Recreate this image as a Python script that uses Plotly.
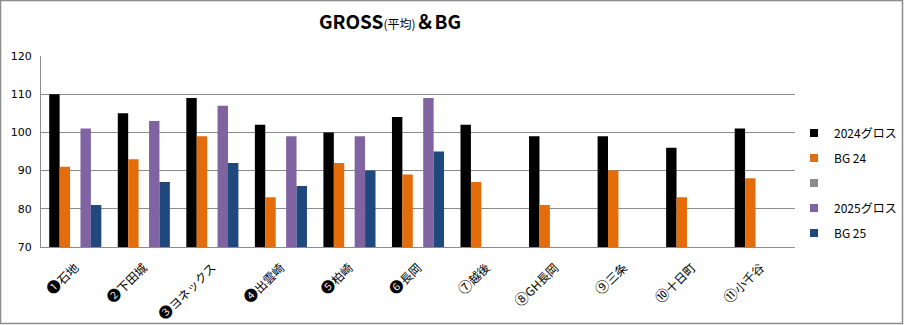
import plotly.graph_objects as go

categories = ["❶石地", "❷下田城", "❸ヨネックス", "❹出雲崎", "❺柏崎", "❻長岡",
              "⑦越後", "⑧GH長岡", "⑨三条", "⑩十日町", "⑪小千谷"]
gross_2024 = [110, 105, 109, 102, 100, 104, 102, 99, 99, 96, 101]
bg_24 = [91, 93, 99, 83, 92, 89, 87, 81, 90, 83, 88]
blank = [None] * 11
gross_2025 = [101, 103, 107, 99, 99, 109, None, None, None, None, None]
bg_25 = [81, 87, 92, 86, 90, 95, None, None, None, None, None]

series = [
    ("2024グロス", gross_2024, "#000000"),
    ("BG 24", bg_24, "#E46C0A"),
    (" ", blank, "#8C8C8C"),
    ("2025グロス", gross_2025, "#8064A2"),
    ("BG 25", bg_25, "#1F497D"),
]

# enlarge the circled-number glyph of each label
ticktext = ["<span style='font-size:14px'>%s</span>%s" % (c[0], c[1:]) for c in categories]

fig = go.Figure()
for i, (name, vals, col) in enumerate(series):
    fig.add_trace(go.Bar(x=categories, y=vals, name=name, marker_color=col,
                         marker_line_width=0, showlegend=False))
for i, (name, vals, col) in enumerate(series):
    fig.add_trace(go.Scatter(x=[None], y=[None], mode="markers", name=name,
                             marker=dict(symbol="square", size=8, color=col),
                             legendgroup=str(i), showlegend=True))

ml, mr, mt, mb = 41, 109, 56, 78
pw, ph = 904 - ml - mr, 325 - mt - mb

fig.update_layout(
    width=904, height=325,
    margin=dict(l=ml, r=mr, t=mt, b=mb, autoexpand=False),
    paper_bgcolor="white", plot_bgcolor="white",
    barmode="group", bargap=0.24, bargroupgap=0,
    font=dict(family="Noto Sans CJK JP, sans-serif", color="#000000"),
    title=dict(text="<b>GROSS</b><span style='font-size:12px'>(平均)</span><b>＆BG</b>",
               x=390 / 904, xanchor="center", y=1 - 22 / 325, yanchor="middle",
               font=dict(size=19, family="Noto Sans CJK JP, sans-serif", color="#000")),
    legend=dict(x=1 - 1 / pw, xanchor="left", y=(247 - 183) / ph, yanchor="middle",
                font=dict(size=12), tracegroupgap=6, itemwidth=30,
                bgcolor="rgba(0,0,0,0)"),
    showlegend=True,
)
fig.update_yaxes(range=[70, 120], dtick=10, showgrid=True, gridcolor="#8C8C8C",
                 gridwidth=1, showline=True, linecolor="#8C8C8C", linewidth=1,
                 ticks="", tickfont=dict(size=11, family="DejaVu Sans, sans-serif"),
                 zeroline=False, ticklabelstandoff=6)
fig.update_xaxes(tickangle=-45, tickmode="array", tickvals=categories, ticktext=ticktext,
                 tickfont=dict(size=12, family="Noto Sans CJK JP, sans-serif"),
                 showline=True, linecolor="#8C8C8C", linewidth=1, ticks="",
                 ticklabelstandoff=8)
fig.add_shape(type="rect", xref="paper", yref="paper",
              x0=-(ml - 0.5) / pw, x1=1 + (mr - 1.5) / pw,
              y0=-(mb - 1.5) / ph, y1=1 + (mt - 0.5) / ph,
              line=dict(color="#8C8C8C", width=1.5), layer="below")

fig.write_html("out.html")
